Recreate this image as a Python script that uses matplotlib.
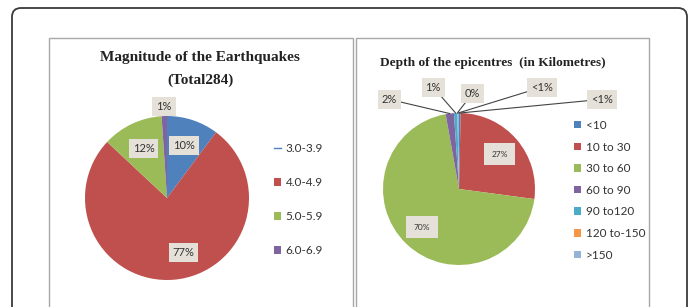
import numpy as np
import matplotlib
matplotlib.use("Agg")
import matplotlib.pyplot as plt
from matplotlib.patches import FancyBboxPatch, Rectangle, Patch
from matplotlib.lines import Line2D
from matplotlib.transforms import IdentityTransform

# data
mag_classes = ['3.0-3.9', '4.0-4.9', '5.0-5.9', '6.0-6.9']
mag_counts = [29, 218, 34, 3]
mag_labels = ['10%', '77%', '12%', '1%']

depth_classes = ['<10', '10 to 30', '30 to 60', '60 to 90', '90 to120', '120 to-150', '>150']
depth_counts = [1, 76, 199, 5, 2, 0.001, 1]
depth_labels = ['<1%', '27%', '70%', '2%', '1%', '0%', '<1%']

mag_colors = ['#4F81BD', '#C0504D', '#9BBB59', '#8064A2']
depth_colors = ['#4F81BD', '#C0504D', '#9BBB59', '#8064A2', '#4BACC6', '#F79646', '#95B3D7']

W, H = 689, 307
fig = plt.figure(figsize=(W / 100, H / 100), dpi=100)
fig.patch.set_facecolor('white')

# frames (pixel coords)
px = IdentityTransform()
fig.patches.append(FancyBboxPatch((12, -20), 675, 299 + 20, boxstyle='round,pad=0,rounding_size=9',
                                  transform=px, fc='white', ec='#3a3a3a', lw=1.3, figure=fig, zorder=-3))
for x0, x1 in [(49, 353), (356, 649)]:
    fig.patches.append(Rectangle((x0, -10), x1 - x0, 269 + 10, transform=px,
                                 fc='white', ec='#a8a8a8', lw=1.0, figure=fig, zorder=-2))

lbl_box = dict(boxstyle='square,pad=0.35', fc='#e6e1d8', ec='none')
sans = 'Lato'
serif = 'Liberation Serif'


def pie_axes(cx, cy, r):
    return fig.add_axes([(cx - r) / W, (H - cy - r) / H, 2 * r / W, 2 * r / H])


# ---- left: magnitude
ax1 = pie_axes(167, 198, 82)
wedges, _ = ax1.pie(mag_counts, colors=mag_colors, startangle=90, counterclock=False,
                    wedgeprops=dict(linewidth=0))
ax1.set_xlim(-1, 1); ax1.set_ylim(-1, 1)
dist = [0.67, 0.67, 0.67, 1.12]
nudge = [0, 0.14, 0, 0]  # excel puts the big label a bit right of mid-angle
for w, lab, d, dx in zip(wedges, mag_labels, dist, nudge):
    a = np.deg2rad((w.theta1 + w.theta2) / 2)
    ax1.text(d * np.cos(a) + dx, d * np.sin(a), lab, ha='center', va='center', fontsize=8,
             family=sans, color='#333333', bbox=lbl_box, clip_on=False)

fig.text(200 / W, 1 - 57 / H, 'Magnitude of the Earthquakes', ha='center', va='center',
         family=serif, weight='bold', fontsize=11, color='#222222')
fig.text(200 / W, 1 - 80 / H, '(Total284)', ha='center', va='center',
         family=serif, weight='bold', fontsize=11, color='#222222')

h1 = [Line2D([], [], color=mag_colors[0], lw=1)] + [Patch(fc=c, ec='none') for c in mag_colors[1:]]
fig.legend(h1, mag_classes, loc='upper left', bbox_to_anchor=(268 / W, 1 - 137 / H),
           frameon=False, prop=dict(family=sans, size=8.5), labelspacing=1.95,
           handlelength=0.6, handleheight=0.6, handletextpad=0.4, borderpad=0,
           labelcolor='#333333')

# ---- right: depth
ax2 = pie_axes(459, 189, 76)
wedges2, _ = ax2.pie(depth_counts, colors=depth_colors, startangle=90, counterclock=False,
                     wedgeprops=dict(linewidth=0))
ax2.set_xlim(-1, 1); ax2.set_ylim(-1, 1)
inner = {1: 0.7, 2: 0.7}
outer_pos = {0: (1.88, 1.18), 6: (1.09, 1.34), 5: (0.18, 1.26), 4: (-0.34, 1.34), 3: (-0.92, 1.18)}
for i, (w, lab) in enumerate(zip(wedges2, depth_labels)):
    a = np.deg2rad((w.theta1 + w.theta2) / 2)
    if i in inner:
        d = inner[i]
        ax2.text(d * np.cos(a), d * np.sin(a), lab, ha='center', va='center', fontsize=6,
                 family=sans, color='#333333', bbox=dict(boxstyle='square,pad=0.9', fc='#e6e1d8', ec='none'))
    else:
        ax2.annotate(lab, xy=(np.cos(a), np.sin(a)), xytext=outer_pos[i], ha='center', va='center',
                     fontsize=8, family=sans, color='#333333', bbox=lbl_box,
                     arrowprops=dict(arrowstyle='-', color='#444444', lw=0.8, shrinkA=0, shrinkB=0),
                     annotation_clip=False)

fig.text(493 / W, 1 - 63 / H, 'Depth of the epicentres  (in Kilometres)', ha='center', va='center',
         family=serif, weight='bold', fontsize=9.6, color='#222222')

h2 = [Patch(fc=c, ec='none') for c in depth_colors]
fig.legend(h2, depth_classes, loc='upper left', bbox_to_anchor=(568 / W, 1 - 114 / H),
           frameon=False, prop=dict(family=sans, size=8.5), labelspacing=0.9,
           handlelength=0.6, handleheight=0.6, handletextpad=0.4, borderpad=0,
           labelcolor='#333333')

fig.savefig('out.png', dpi=100)
